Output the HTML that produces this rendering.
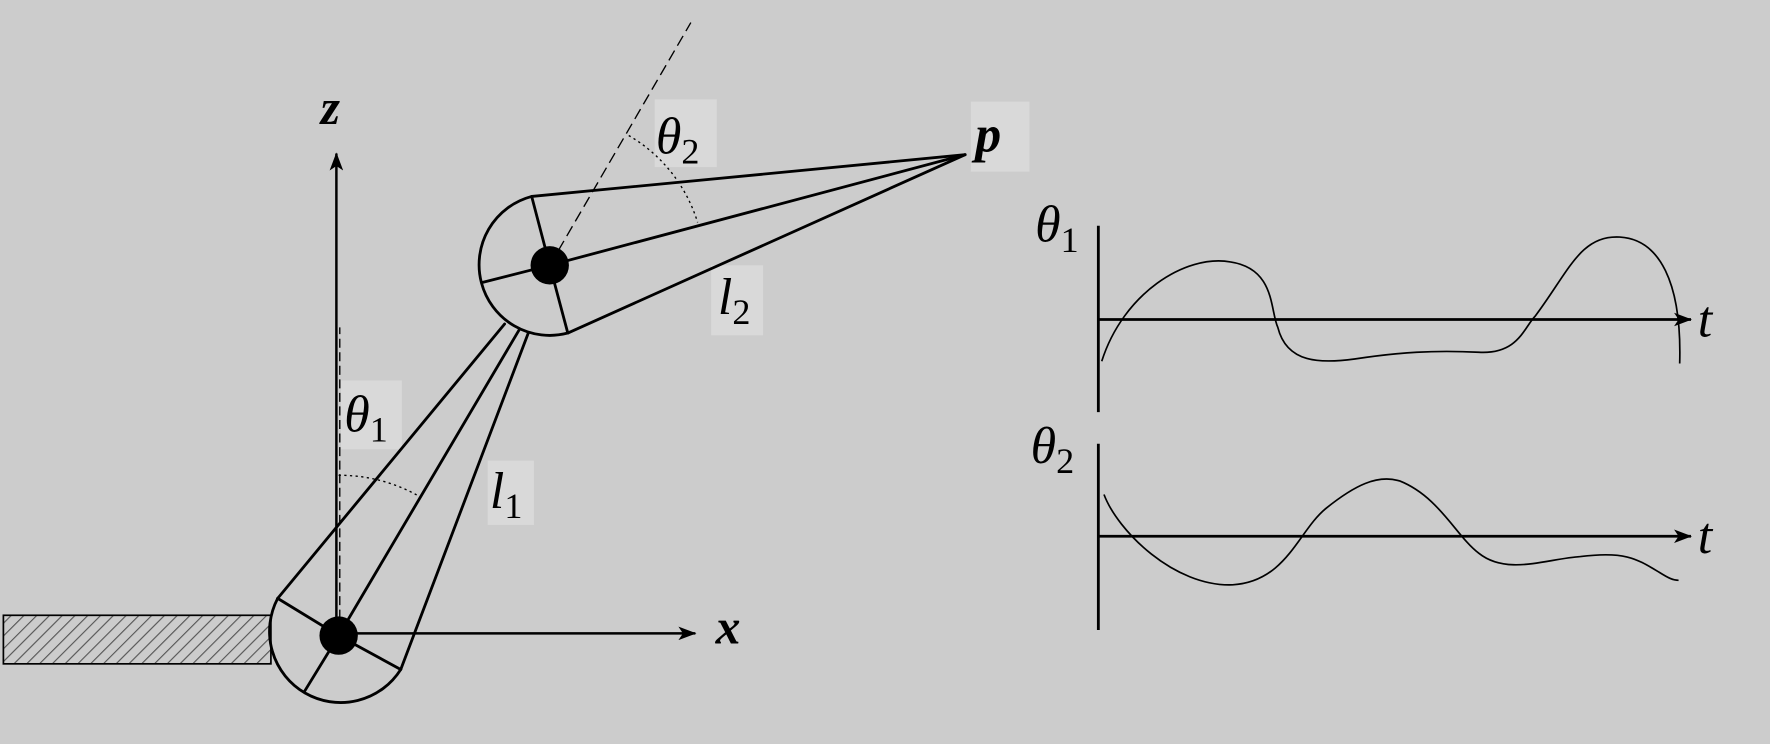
<!DOCTYPE html>
<html><head><meta charset="utf-8"><style>html,body{margin:0;padding:0;background:#cccccc;}svg{display:block}</style></head>
<body>
<svg width="1770" height="744" viewBox="0 0 1568 659" preserveAspectRatio="none" xmlns="http://www.w3.org/2000/svg">
<defs>
<pattern id="h" width="8" height="8" patternUnits="userSpaceOnUse" patternTransform="rotate(45)">
<rect width="8" height="8" fill="#cccccc"/><line x1="0" y1="0" x2="0" y2="8" stroke="#555" stroke-width="2"/></pattern>
<marker id="a" markerWidth="16" markerHeight="12" refX="15" refY="6" orient="auto" markerUnits="userSpaceOnUse">
<path d="M0,0 L16,6 L0,12 L4,6 Z" fill="#000"/></marker>
</defs>
<rect width="1568" height="659" fill="#cccccc"/>
<g fill="#d9d9d9">
<rect x="860" y="90" width="52" height="62"/><rect x="580" y="88" width="55" height="60"/>
<rect x="630" y="235" width="46" height="62"/><rect x="302" y="337" width="54" height="61"/><rect x="432" y="408" width="41" height="57"/>
</g>
<rect x="3" y="545" width="237" height="43" fill="url(#h)" stroke="#000" stroke-width="1.5"/>
<g stroke="#000" stroke-width="2.5" fill="none" stroke-linecap="round">
<path d="M246,530 A63,63 0 0 0 355,593"/>
<line x1="246" y1="530" x2="300" y2="563"/><line x1="270" y1="612" x2="300" y2="563"/><line x1="355" y1="593" x2="300" y2="563"/>
<line x1="246" y1="530" x2="447" y2="287"/><line x1="300" y1="563" x2="460" y2="292"/><line x1="355" y1="593" x2="468" y2="295"/>
<path d="M471,174 A62,62 0 0 0 503,295"/>
<line x1="471" y1="174" x2="487" y2="235"/><line x1="428" y1="250" x2="487" y2="235"/><line x1="503" y1="295" x2="487" y2="235"/>
<line x1="471" y1="174" x2="855" y2="137"/><line x1="487" y1="235" x2="855" y2="137"/><line x1="503" y1="295" x2="855" y2="137"/>
</g>
<g stroke="#000" stroke-width="2.2" fill="none">
<line x1="298" y1="560" x2="298" y2="136" marker-end="url(#a)"/>
<line x1="300" y1="561" x2="616" y2="561" marker-end="url(#a)"/>
<line x1="487" y1="235" x2="612" y2="20" stroke-width="1.2" stroke-dasharray="10,5"/>
<line x1="301" y1="560" x2="301" y2="290" stroke-width="1.2" stroke-dasharray="8,4"/>
<path d="M557,120 A135,135 0 0 1 618,197" stroke-width="1.2" stroke-dasharray="2,3"/>
<path d="M300,421 A142,142 0 0 1 372,440" stroke-width="1.2" stroke-dasharray="2,3"/>
</g>
<circle cx="300" cy="563" r="17" fill="#000"/>
<circle cx="487" cy="235" r="17" fill="#000"/>
<g font-family="'Liberation Serif',serif" font-style="italic" font-size="46" fill="#000">
<text x="284" y="110" font-weight="bold" font-size="44">z</text>
<text x="634" y="570" font-weight="bold" font-size="44">x</text>
<text x="864" y="134" font-weight="bold">p</text>
<text x="581" y="136">θ<tspan font-size="32" dy="9" font-style="normal">2</tspan></text>
<text x="636" y="278">l<tspan font-size="32" dy="9" font-style="normal">2</tspan></text>
<text x="305" y="382">θ<tspan font-size="32" dy="9" font-style="normal">1</tspan></text>
<text x="434" y="450">l<tspan font-size="32" dy="9" font-style="normal">1</tspan></text>
<text x="917" y="214">θ<tspan font-size="32" dy="9" font-style="normal">1</tspan></text>
<text x="913" y="410">θ<tspan font-size="32" dy="9" font-style="normal">2</tspan></text>
<text x="1504" y="298">t</text>
<text x="1504" y="490">t</text>
</g>
<g stroke="#000" fill="none">
<line x1="973" y1="200" x2="973" y2="365" stroke-width="2.5"/>
<line x1="973" y1="283" x2="1498" y2="283" stroke-width="2.5" marker-end="url(#a)"/>
<line x1="973" y1="393" x2="973" y2="558" stroke-width="2.5"/>
<line x1="973" y1="475" x2="1498" y2="475" stroke-width="2.5" marker-end="url(#a)"/>
<path stroke-width="1.5" d="M976,320 C995,260 1050,225 1090,232 C1130,238 1125,275 1132,290 C1140,322 1170,322 1200,318 C1240,312 1270,310 1310,312 C1345,314 1350,290 1360,280 C1390,240 1400,208 1435,210 C1470,212 1490,250 1488,322"/>
<path stroke-width="1.5" d="M978,438 C990,470 1040,520 1092,518 C1140,515 1150,470 1175,450 C1200,430 1220,420 1240,426 C1275,440 1290,475 1310,490 C1335,510 1370,495 1400,493 C1440,488 1450,495 1470,507 C1478,512 1482,514 1487,514"/>
</g>
</svg>
</body></html>
